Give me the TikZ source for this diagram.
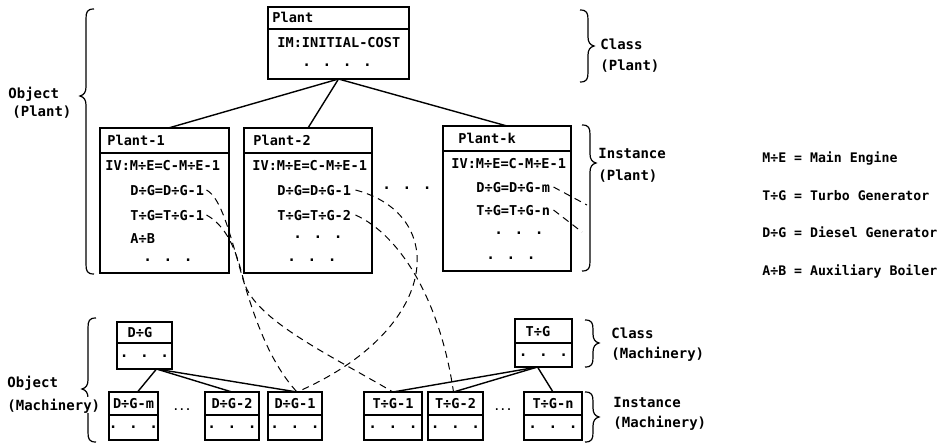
\documentclass[tikz,border=0pt]{standalone}
\usepackage{fontspec}
\newfontfamily\dm{DejaVu Sans Mono}
\usetikzlibrary{calc,fit}
\newcommand\ubox[6]{%
  \node[box,fit={(#2,#3) (#4,#5)}] (#1) {};
  \draw[sepl] ($(#1.north west)+(0,#6-#3)$) -- ($(#1.north east)+(0,#6-#3)$);}
\newcommand\mylbr[4]{%
  \draw[brc] (#1+8,#2) .. controls (#1+1,#2) and (#1,#2+3) .. (#1,#2+10) -- (#1,#3-9)
    .. controls (#1,#3-4) and (#1-2,#3-1) .. (#1-6,#3)
    .. controls (#1-2,#3+1) and (#1,#3+4) .. (#1,#3+9) -- (#1,#4-10)
    .. controls (#1,#4-3) and (#1+1,#4) .. (#1+8,#4);}
\newcommand\myrbr[4]{%
  \draw[brc] (#1-8,#2) .. controls (#1-1,#2) and (#1,#2+3) .. (#1,#2+10) -- (#1,#3-9)
    .. controls (#1,#3-4) and (#1+2,#3-1) .. (#1+6,#3)
    .. controls (#1+2,#3+1) and (#1,#3+4) .. (#1,#3+9) -- (#1,#4-10)
    .. controls (#1,#4-3) and (#1-1,#4) .. (#1-8,#4);}
\begin{document}
\begin{tikzpicture}[x=0.5pt,y=-0.5pt,
  box/.style={draw,line width=0.8pt,inner sep=0pt,outer sep=0pt},
  sepl/.style={line width=0.8pt},
  txt/.style={font=\dm\bfseries\fontsize{6.8}{8}\selectfont,inner sep=0pt,text height=5pt,text depth=0pt},
  dts/.style={font=\dm\bfseries\fontsize{7.2}{8}\selectfont,inner sep=0pt},
  lab/.style={font=\dm\bfseries\fontsize{7}{8}\selectfont,inner sep=0pt,text height=5.1pt,text depth=0pt,anchor=west},
  leg/.style={font=\dm\bfseries\fontsize{6.6}{8}\selectfont,inner sep=0pt,text height=4.8pt,text depth=0pt,anchor=west},
  conn/.style={line width=0.7pt},
  dsh/.style={line width=0.5pt,dash pattern=on 3.5pt off 2.5pt},
  brc/.style={line width=0.6pt}]
\useasboundingbox (0,0) rectangle (940,444);

% ---------- Plant class ----------
\ubox{pc}{268}{7}{409}{79}{29}
\node[txt,anchor=west] (pcT) at (272,18) {Plant};
\node[txt,anchor=west] (pcA) at (277,43) {IM:INITIAL-COST};
\node[dts] (pcD) at (337,65) {. . . .};

% ---------- Plant instances ----------
\ubox{p1}{100}{128}{229}{273}{153}
\node[txt,anchor=west] (p1T) at (107,140) {Plant-1};
\node[txt,anchor=west] (p1a) at (105,165) {IV:M÷E=C-M÷E-1};
\node[txt,anchor=west] (p1d) at (130,190) {D÷G=D÷G-1};
\node[txt,anchor=west] (p1t) at (130,215) {T÷G=T÷G-1};
\node[txt,anchor=west] (p1b) at (130,238) {A÷B};
\node[dts] (p1e) at (168,260) {. . .};

\ubox{p2}{244}{128}{372}{273}{153}
\node[txt,anchor=west] (p2T) at (253,140) {Plant-2};
\node[txt,anchor=west] (p2a) at (252,165) {IV:M÷E=C-M÷E-1};
\node[txt,anchor=west] (p2d) at (277,190) {D÷G=D÷G-1};
\node[txt,anchor=west] (p2t) at (277,215) {T÷G=T÷G-2};
\node[dts] (p2e) at (318,237) {. . .};
\node[dts] (p2f) at (312,260) {. . .};

\node[dts] (pmid) at (407,188) {. . .};

\ubox{pk}{443}{126}{571}{271}{151}
\node[txt,anchor=west] (pkT) at (458,138) {Plant-k};
\node[txt,anchor=west] (pka) at (451,163) {IV:M÷E=C-M÷E-1};
\node[txt,anchor=west] (pkd) at (476,187) {D÷G=D÷G-m};
\node[txt,anchor=west] (pkt) at (476,210) {T÷G=T÷G-n};
\node[dts] (pke) at (519,233) {. . .};
\node[dts] (pkf) at (511,258) {. . .};

\draw[conn] (pc.south) -- ($(p1.north)+(4,0)$);
\draw[conn] (pc.south) -- (p2.north);
\draw[conn] (pc.south) -- (pk.north);

% ---------- Machinery classes ----------
\ubox{dgc}{117}{322}{172}{369}{343}
\node[txt] (dgcT) at (140,332) {D÷G};
\node[dts] (dgcD) at (144.5,356) {. . .};
\ubox{tgc}{515}{319}{572}{367}{343}
\node[txt] (tgcT) at (538,331) {T÷G};
\node[dts] (tgcD) at (543.5,355) {. . .};

% ---------- Machinery instances ----------
\ubox{dgm}{109}{392}{158}{440}{415}
\node[txt] (dgmT) at (133.5,403.5) {D÷G-m};
\node[dts] (dgmD) at (133.5,427.5) {. . .};
\ubox{dg2}{205}{392}{259}{440}{415}
\node[txt] (dg2T) at (232,403.5) {D÷G-2};
\node[dts] (dg2D) at (232,427.5) {. . .};
\ubox{dg1}{268}{392}{322}{440}{415}
\node[txt] (dg1T) at (295,403.5) {D÷G-1};
\node[dts] (dg1D) at (295,427.5) {. . .};
\ubox{tg1}{364}{392}{422}{440}{415}
\node[txt] (tg1T) at (393,403.5) {T÷G-1};
\node[dts] (tg1D) at (393,427.5) {. . .};
\ubox{tg2}{428}{392}{483}{440}{415}
\node[txt] (tg2T) at (455.5,403.5) {T÷G-2};
\node[dts] (tg2D) at (455.5,427.5) {. . .};
\ubox{tgn}{524}{392}{582}{440}{415}
\node[txt] (tgnT) at (553,403.5) {T÷G-n};
\node[dts] (tgnD) at (553,427.5) {. . .};

\node[font=\dm\bfseries\fontsize{5}{6}\selectfont,inner sep=0pt] (dgx) at (182,410) {...};
\node[font=\dm\bfseries\fontsize{5}{6}\selectfont,inner sep=0pt] (tgx) at (503,410) {...};

\draw[conn] ($(dgc.south)+(12,0)$) -- ($(dgm.north)+(4,0)$);
\draw[conn] ($(dgc.south)+(12,0)$) -- (dg2.north);
\draw[conn] ($(dgc.south)+(12,0)$) -- ($(dg1.north)+(2,0)$);
\draw[conn] ($(tgc.south)+(-6,0)$) -- (tg1.north);
\draw[conn] ($(tgc.south)+(-6,0)$) -- ($(tg2.north)+(-2,0)$);
\draw[conn] ($(tgc.south)+(-6,0)$) -- (tgn.north);

% ---------- dashed references ----------
\draw[dsh] ([xshift=1pt]p1d.east) .. controls (236,206) and (240,330) .. ($(dg1.north)+(2,0)$);
\draw[dsh] ([xshift=1pt]p1t.east) .. controls (230,228) and (238,258) .. (244,282)
   .. controls (255,320) and (330,355) .. (tg1.north);
\draw[dsh] ([xshift=2pt]p2d.east) .. controls (450,215) and (440,330) .. ($(dg1.north)+(2,0)$);
\draw[dsh] ([xshift=2pt]p2t.east) .. controls (400,235) and (440,300) .. ($(tg2.north)+(-2,0)$);
\coordinate (pkdE) at (587,205);
\coordinate (pktE) at (582,232);
\draw[dsh] ([xshift=1.5pt]pkd.east) -- (pkdE);
\draw[dsh] ([xshift=1.5pt]pkt.east) -- (pktE);

% ---------- braces ----------
\mylbr{86}{9}{96}{274}
\mylbr{88}{318}{389}{442}
\myrbr{588}{10}{46}{82}
\myrbr{590}{125}{163}{271}
\myrbr{593}{320}{343}{367}
\myrbr{593}{392}{417}{442}

% ---------- labels ----------
\node[lab] (o1) at (8,93) {Object};
\node[lab] (o2) at (12,111) {(Plant)};
\node[lab] (c1) at (600,44) {Class};
\node[lab] (c2) at (600,65) {(Plant)};
\node[lab] (i1) at (598,153) {Instance};
\node[lab] (i2) at (598,175) {(Plant)};
\node[lab] (o3) at (7,382) {Object};
\node[lab,fill=white,inner ysep=1.5pt] (o4) at (7,405) {(Machinery)};
\node[lab] (c3) at (611,333) {Class};
\node[lab] (c4) at (611,353) {(Machinery)};
\node[lab] (i3) at (613,402) {Instance};
\node[lab] (i4) at (613,422) {(Machinery)};

% ---------- legend ----------
\node[leg] (l1) at (762,158) {M÷E = Main Engine};
\node[leg] (l2) at (762,196) {T÷G = Turbo Generator};
\node[leg] (l3) at (762,233) {D÷G = Diesel Generator};
\node[leg] (l4) at (762,271) {A÷B = Auxiliary Boiler};
\end{tikzpicture}
\end{document}
